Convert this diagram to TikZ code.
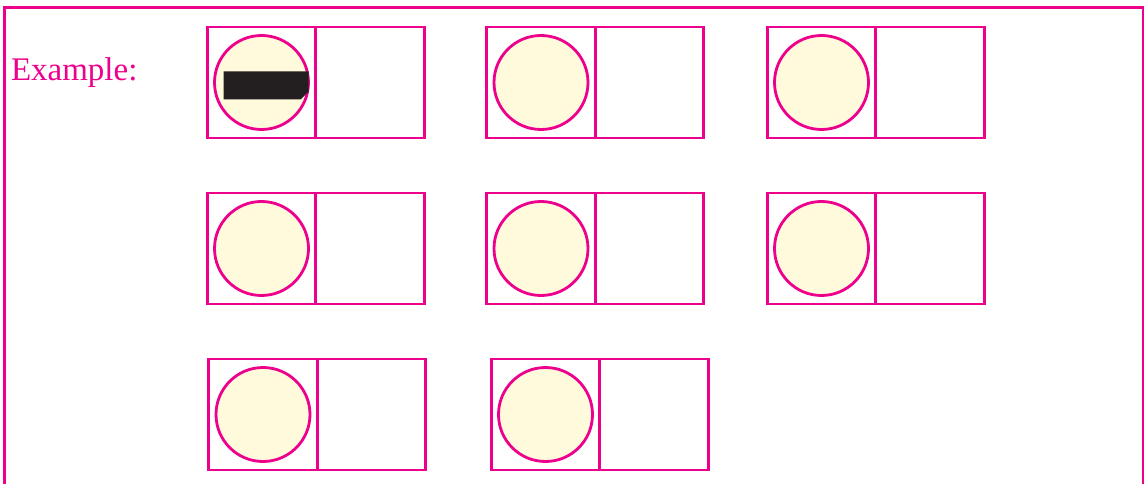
\documentclass[tikz,border=0pt]{standalone}
\usepackage{fontspec}
\setmainfont{Liberation Serif}
\usepackage{xcolor}
\usepackage{tikz}
\usetikzlibrary{positioning}
\definecolor{pinkline}{HTML}{EC008C}
\definecolor{cream}{HTML}{FFFADC}
\definecolor{ink}{HTML}{231F20}

\begin{document}
\begin{tikzpicture}[
      x=1pt, y=-1pt,
      every node/.style={inner sep=0pt, outer sep=0pt},
      cell/.style={draw=pinkline,line width=2.8pt,minimum width=108.5pt,minimum height=111pt},
      ball/.style={draw=pinkline,circle,line width=2.8pt,fill=cream,minimum size=94pt}
  ]
    \useasboundingbox (0,0) rectangle (1144,484);
    \draw[pinkline, line width=3pt] (4,490) -- (4,8) -- (1143,8) -- (1143,490);

    \node[anchor=base west, text=pinkline, font=\fontsize{33}{36}\selectfont] (ex) at (11,81) {Example:};

    % first row
    \node[cell] (a1) at (261.5,82.5) {};
    \node[cell, right=0pt of a1] (b1) {};
    \node[ball] (c1) at (a1.center) {};
    \node[cell] (a2) at (541,82.5) {};
    \node[cell, right=0pt of a2] (b2) {};
    \node[ball] (c2) at (a2.center) {};
    \node[cell] (a3) at (821.5,82.5) {};
    \node[cell, right=0pt of a3] (b3) {};
    \node[ball] (c3) at (a3.center) {};

    % second row
    \node[cell] (a4) at (261.5,248.5) {};
    \node[cell, right=0pt of a4] (b4) {};
    \node[ball] (c4) at (a4.center) {};
    \node[cell] (a5) at (541,248.5) {};
    \node[cell, right=0pt of a5] (b5) {};
    \node[ball] (c5) at (a5.center) {};
    \node[cell] (a6) at (821.5,248.5) {};
    \node[cell, right=0pt of a6] (b6) {};
    \node[ball] (c6) at (a6.center) {};

    % third row
    \node[cell] (a7) at (263,414.5) {};
    \node[cell, right=0pt of a7] (b7) {};
    \node[ball] (c7) at (a7.center) {};
    \node[cell] (a8) at (545.5,414.5) {};
    \node[cell, right=0pt of a8] (b8) {};
    \node[ball] (c8) at (a8.center) {};

    % the worked example
    \fill[ink, shift={(c1.center)}] (-38,-11) -- (47,-11) -- (47,9) -- (39,17) -- (-38,17) -- cycle;
  \end{tikzpicture}
\end{document}
